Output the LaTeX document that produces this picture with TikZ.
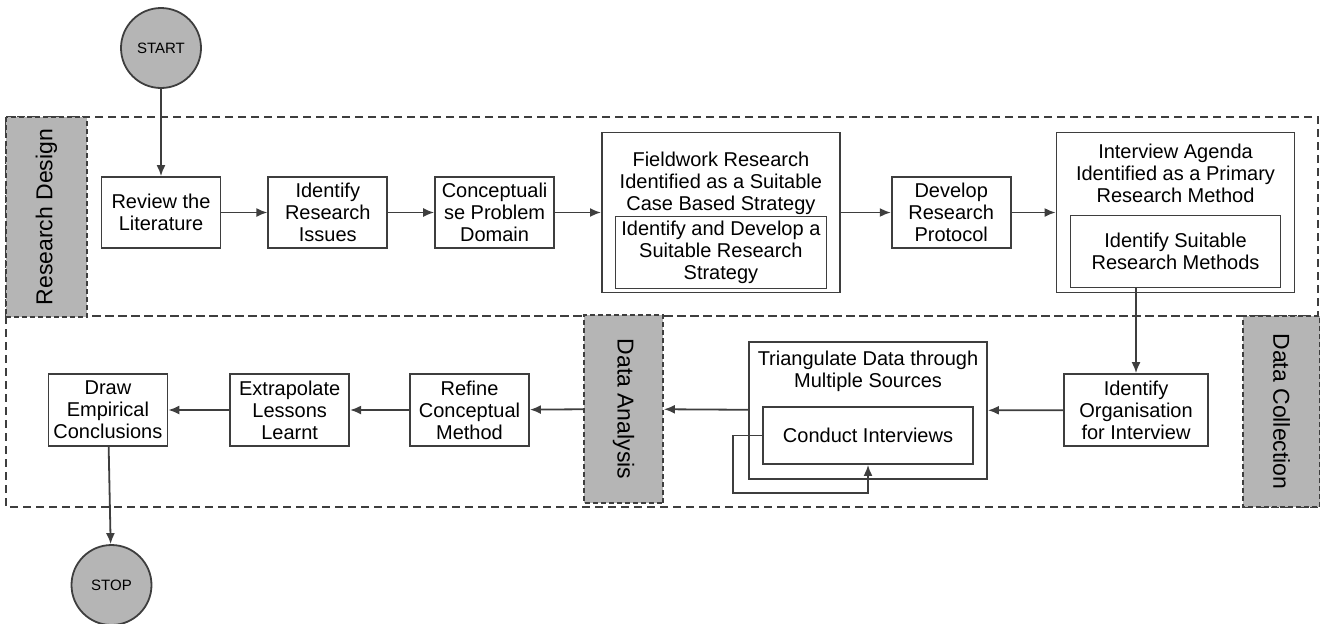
\documentclass[tikz,border=0pt]{standalone}
\usepackage{fontspec}
\setmainfont{Liberation Sans}
\usetikzlibrary{shapes,arrows,arrows.meta,fit,positioning}
\definecolor{lanegray}{RGB}{181,181,181}
\definecolor{linegray}{RGB}{62,62,62}
\def\Lbl{\fontsize{11.5pt}{13pt}\selectfont}

\begin{document}
\begin{tikzpicture}[x=0.5pt,y=-0.5pt,% one unit = one pixel of the sketch
			every node/.style={
				align=center,  		% so that "\\" breaks the line
				font=\fontsize{10pt}{11pt}\selectfont
			},
			box/.style={rectangle,draw=linegray,line width=0.9pt,fill=white,minimum width=59.5pt,minimum height=35.5pt,inner sep=1pt},
			outerbox/.style={rectangle,draw=linegray,line width=0.9pt,fill=white,minimum width=119pt,minimum height=80pt},
			innerbox/.style={rectangle,draw=linegray,line width=0.9pt,minimum width=105.5pt,minimum height=36pt,inner sep=1pt},
			head/.style={inner sep=0pt},
			terminal/.style={circle,draw=linegray,line width=0.9pt,fill=lanegray,minimum size=40pt,inner sep=0pt,font=\fontsize{7.5pt}{9pt}\selectfont},
			lane/.style={draw=linegray,line width=1pt,dash pattern=on 4pt off 2.5pt},
			lanelabel/.style={rectangle,draw=linegray,line width=0.9pt,dash pattern=on 2.5pt off 1.5pt,fill=lanegray,inner sep=0pt,font=\Lbl},
			every edge/.style={draw=linegray,line width=0.9pt},
			>={Latex[length=5.5pt,width=4.5pt]}
		]
		\useasboundingbox (0,0) rectangle (1320,623);
		% swim lanes
		\draw[lane] (6,117) rectangle (1318,316);
		\draw[lane] (6,316) rectangle (1318,507);
		\node[lanelabel,rotate=90,minimum width=100pt,minimum height=40.5pt](RD) at (46.5,217){Research Design};
		\node[lanelabel,rotate=-90,minimum width=94pt,minimum height=39.5pt](DA) at (623.5,409){Data Analysis};
		\node[lanelabel,rotate=-90,minimum width=95.5pt,minimum height=38.5pt](DC) at (1281.5,411.5){Data Collection};
		% research design
		\node[terminal](start) at (161,48){START};
		\node[box](R1) at (161,212.5){Review the\\Literature};
		\node[box](R2)[right=23pt of R1]{Identify\\Research\\Issues};
		\node[box](R3)[right=23pt of R2]{Conceptuali\\se Problem\\Domain};
		\node[outerbox](R4)[right=23pt of R3]{};
		\node[head](R4t)[below=10pt of R4.north]{Fieldwork Research\\Identified as a Suitable\\Case Based Strategy};
		\node[innerbox](R4i)[above=2pt of R4.south]{Identify and Develop a\\Suitable Research\\Strategy};
		\node[box](R5)[right=25pt of R4]{Develop\\Research\\Protocol};
		\node[outerbox](R6)[right=22pt of R5]{};
		\node[head](R6t)[below=6pt of R6.north]{Interview Agenda\\Identified as a Primary\\Research Method};
		\node[innerbox,minimum width=105pt](R6i)[above=2.5pt of R6.south]{Identify Suitable\\Research Methods};
		% data collection and analysis
		\node[box,minimum width=72pt,minimum height=36pt](O) at (1136,410){Identify\\Organisation\\for Interview};
		\node[outerbox,minimum height=68.5pt](T) at (868,410.5){};
		\node[head](Tt)[below=4.5pt of T.north]{Triangulate Data through\\Multiple Sources};
		\node[innerbox,minimum width=105pt,minimum height=28.5pt](CI)[above=7.5pt of T.south]{Conduct Interviews};
		\node[box,minimum height=36pt](B3) at (469.5,410){Refine\\Conceptual\\Method};
		\node[box,minimum height=36pt](B2)[left=29.5pt of B3]{Extrapolate\\Lessons\\Learnt};
		\node[box,minimum height=36pt](B1)[left=30.5pt of B2]{Draw\\Empirical\\Conclusions};
		\node[terminal](stop) at (111.5,585){STOP};
		\coordinate (loop) at (733,493);
		\path[->]
		(start)edge (R1)
		(R1)edge (R2)
		(R2)edge (R3)
		(R3)edge (R4)
		(R4)edge (R5)
		(R5)edge (R6)
		(R6i.south -| O.north)edge (O)
		(O)edge (T)
		(T)edge (DA)
		(DA)edge (B3)
		(B3)edge (B2)
		(B2)edge (B1)
		(B1)edge (stop)
		;
		\draw[->,draw=linegray,line width=0.9pt] (CI.west) -| (loop) -| (CI.south);
	\end{tikzpicture}
\end{document}
